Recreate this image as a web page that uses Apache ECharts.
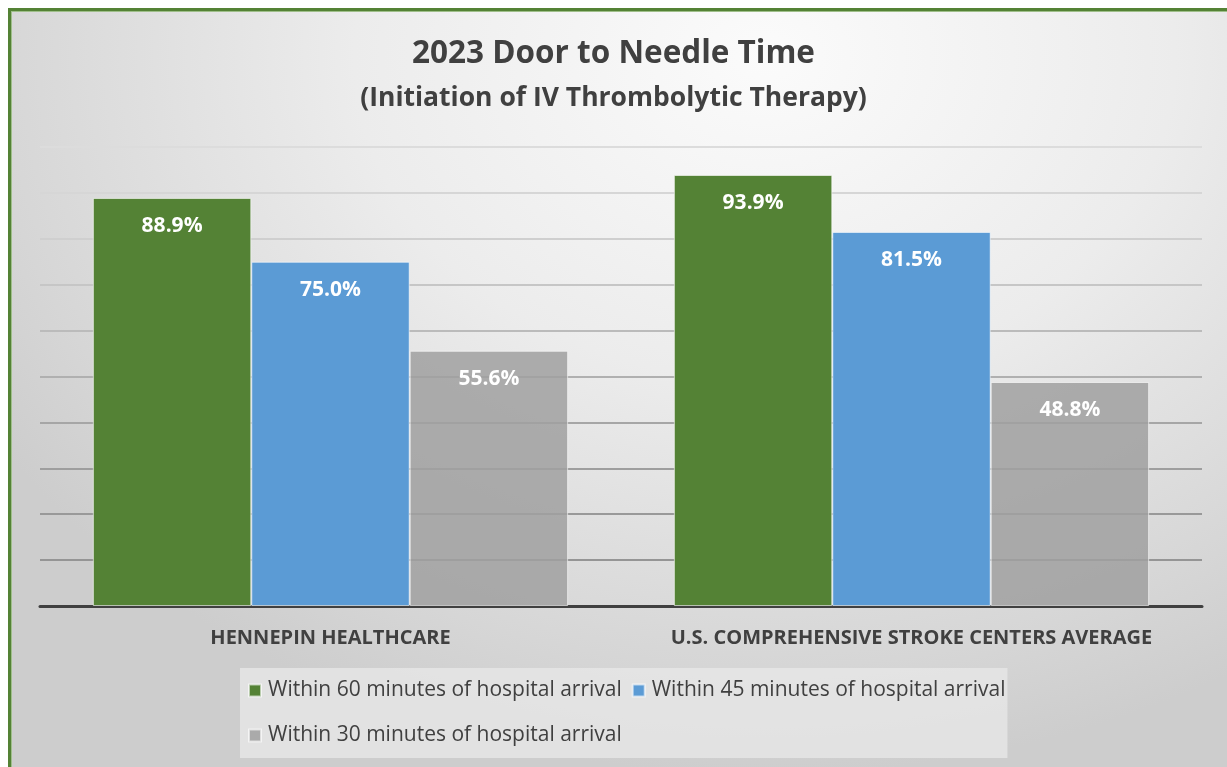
<!DOCTYPE html>
<html>
<head>
<meta charset="utf-8">
<script src="https://cdn.jsdelivr.net/npm/echarts@6/dist/echarts.min.js"></script>
<style>
  html, body { margin: 0; padding: 0; background: #fff; }
  #frame {
    position: absolute; left: 8px; top: 8px; width: 1219px; height: 759px;
    box-sizing: border-box;
    border-left: 3px solid #548235; border-top: 3px solid #548235;
    box-shadow: inset 1px 1px 0 #9fbf8a;
    background: radial-gradient(ellipse 75% 95% at 62% 6%, #fbfbfb 0%, #ececec 45%, #d6d6d6 85%, #cdcdcd 100%);
  }
  #chart { position: absolute; left: 0; top: 0; width: 1227px; height: 767px; }
</style>
</head>
<body>
<div id="frame"></div>
<div id="chart"></div>
<script>
  const categories = ["HENNEPIN HEALTHCARE", "U.S. COMPREHENSIVE STROKE CENTERS AVERAGE"];
  const within60 = [88.9, 93.9];
  const within45 = [75.0, 81.5];
  const within30 = [55.6, 48.8];
  const seriesNames = [
    "Within 60 minutes of hospital arrival",
    "Within 45 minutes of hospital arrival",
    "Within 30 minutes of hospital arrival"
  ];

  // gridline colours from the bottom line up to the top one
  const gridColors = ["#8f8f8f", "#959595", "#999999", "#9e9e9e", "#a6a6a6", "#b0b0b0",
    "#bbbbbb", "#c6c6c6", "#cfcfcf", "#d6d6d6", "#dcdcdc"];

  const chart = echarts.init(document.getElementById("chart"));

  const label = {
    show: true,
    position: "insideTop",
    distance: 18,
    color: "#ffffff",
    fontFamily: "Open Sans",
    fontWeight: "bold",
    fontSize: 21,
    formatter: (p) => p.value.toFixed(1) + "%"
  };

  function bar(name, data, color) {
    return {
      name: name,
      type: "bar",
      data: data,
      barGap: "0%",
      barCategoryGap: "18.2%",
      itemStyle: { color: color, borderColor: "rgba(255,255,255,0.6)", borderWidth: 1 },
      label: label
    };
  }

  chart.setOption({
    animation: false,
    textStyle: { fontFamily: "Open Sans" },
    title: [
      {
        text: "2023 Door to Needle Time",
        left: "center",
        top: 33,
        textStyle: { fontFamily: "Open Sans", fontWeight: "bold", fontSize: 31.5, color: "#404040" }
      },
      {
        text: "(Initiation of IV Thrombolytic Therapy)",
        left: "center",
        top: 80,
        textStyle: { fontFamily: "Open Sans", fontWeight: "bold", fontSize: 26.5, color: "#404040" }
      }
    ],
    grid: { left: 40, right: 25, top: 147, bottom: 161, containLabel: false },
    xAxis: {
      type: "category",
      data: categories,
      axisLine: { lineStyle: { color: "#404040", width: 3 } },
      axisTick: { show: false },
      axisLabel: {
        interval: 0,
        margin: 22,
        color: "#404040",
        fontFamily: "Open Sans",
        fontWeight: "bold",
        fontSize: 20
      }
    },
    yAxis: {
      type: "value",
      min: 0,
      max: 100,
      interval: 10,
      axisLine: { show: false },
      axisTick: { show: false },
      axisLabel: { show: false },
      splitLine: { lineStyle: { color: gridColors, width: 2 } }
    },
    legend: {
      data: seriesNames,
      left: 240,
      top: 668,
      width: 800,
      padding: [5, 2, 5, 8],
      itemGap: 10,
      itemWidth: 12,
      itemHeight: 12,
      icon: "rect",
      backgroundColor: "rgba(232,232,232,0.75)",
      textStyle: { fontFamily: "Open Sans", fontSize: 21, color: "#404040", lineHeight: 35, padding: [0, 0, 0, 2] }
    },
    series: [
      bar(seriesNames[0], within60, "#548235"),
      bar(seriesNames[1], within45, "#5b9bd5"),
      bar(seriesNames[2], within30, "rgba(160,160,160,0.85)")
    ]
  });
</script>
</body>
</html>
